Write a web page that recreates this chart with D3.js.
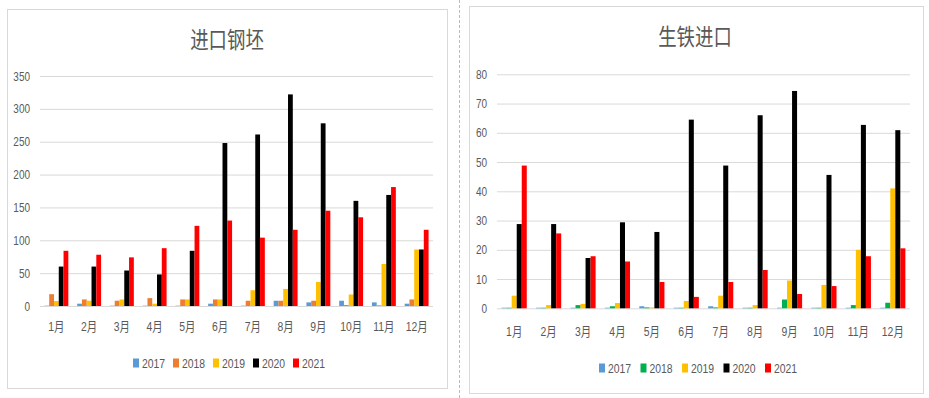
<!DOCTYPE html>
<html lang="zh">
<head>
<meta charset="utf-8" />
<title>进口钢坯 / 生铁进口</title>
<script src="https://d3js.org/d3.v7.min.js"></script>
<style>
  body { margin: 0; background: #fff; }
  text { font-family: "Liberation Sans", "Noto Sans CJK SC", sans-serif; fill: #595959; }
</style>
</head>
<body>
<script>
// data
const months = ["1月","2月","3月","4月","5月","6月","7月","8月","9月","10月","11月","12月"];
const years = ["2017","2018","2019","2020","2021"];

// 进口钢坯
const billet2017 = [0.5, 3.5, 0.5, 0.5, 0.5, 3.5, 0.5, 8, 5.5, 8, 5.5, 3.5];
const billet2018 = [18, 10, 8, 12, 10, 10, 8, 8, 8, 1.5, 1, 10];
const billet2019 = [7.5, 8, 10, 3.5, 10, 10, 24, 26, 36.5, 17.5, 64, 86];
const billet2020 = [60, 60, 54, 48, 84, 248, 261, 322, 278, 160, 169, 86];
const billet2021 = [84, 78, 74, 88, 122, 130, 104, 116, 145, 135, 181, 116];
const billetTicks = [0, 50, 100, 150, 200, 250, 300, 350];

// 生铁进口
const pig2017 = [0.2, 0.2, 0.2, 0.2, 0.7, 0.2, 0.7, 0.2, 0.2, 0.2, 0.2, 0.2];
const pig2018 = [0.2, 0.2, 1.1, 0.7, 0.3, 0.2, 0.3, 0.2, 3, 0.2, 1.1, 1.9];
const pig2019 = [4.3, 1.1, 1.5, 1.8, 0.3, 2.5, 4.3, 1.1, 9.5, 8, 20, 41];
const pig2020 = [28.8, 28.8, 17.2, 29.4, 26.1, 64.5, 48.8, 66, 74.3, 45.6, 62.7, 60.9];
const pig2021 = [48.8, 25.6, 17.8, 16, 9, 3.9, 9, 13.1, 4.9, 7.6, 17.8, 20.5];
const pigTicks = [0, 10, 20, 30, 40, 50, 60, 70, 80];

const svg = d3.select("body").append("svg")
  .attr("width", 929).attr("height", 398);

// dashed separator between the two screenshots
svg.append("line")
  .attr("x1", 459.5).attr("x2", 459.5).attr("y1", 0).attr("y2", 398)
  .attr("stroke", "#bbb").attr("stroke-dasharray", "3,2");

const sx = 0.8; // text in the picture is squeezed sideways

function drawChart(o) {
  const g = svg.append("g");
  g.append("rect")
    .attr("x", o.panel[0] + 0.5).attr("y", o.panel[1] + 0.5)
    .attr("width", o.panel[2]).attr("height", o.panel[3])
    .attr("fill", "#fff").attr("stroke", "#d9d9d9");

  g.append("text")
    .attr("transform", `translate(${o.titleX},${o.titleY}) scale(${sx},1)`)
    .attr("text-anchor", "middle")
    .style("font-family", "'Noto Sans CJK SC', sans-serif")
    .style("font-size", "23px")
    .text(o.title);

  const y = d3.scaleLinear().domain([0, o.max]).range([o.y0, o.yTop]);
  const x = d3.scaleBand().domain(months).range([o.x0, o.x1])
    .paddingInner(o.pad).paddingOuter(o.pad / 2);
  const xs = d3.scaleBand().domain(years).range([0, x.bandwidth()]);

  // grid + y labels
  const yAxis = g.append("g")
    .attr("transform", `translate(${o.x0},0)`)
    .call(d3.axisLeft(y).tickValues(o.ticks).tickSize(-(o.x1 - o.x0)).tickPadding(10));
  yAxis.select(".domain").remove();
  yAxis.selectAll("line").attr("stroke", "#d9d9d9");
  yAxis.selectAll("text")
    .attr("x", null)
    .attr("transform", `translate(-10,0) scale(${sx},1)`)
    .style("font-size", "12.5px").style("fill", "#595959");

  // bars
  o.series.forEach((vals, si) => {
    g.append("g").selectAll("rect")
      .data(vals)
      .join("rect")
      .attr("x", (d, i) => x(months[i]) + xs(years[si]))
      .attr("width", xs.bandwidth())
      .attr("y", d => y(d))
      .attr("height", d => y(0) - y(d))
      .attr("fill", o.colors[si]);
  });

  // month labels
  const xAxis = g.append("g")
    .attr("transform", `translate(0,${o.y0})`)
    .call(d3.axisBottom(x).tickSize(0).tickPadding(o.labelPad));
  xAxis.select(".domain").remove();
  xAxis.selectAll("text")
    .attr("transform", `scale(${sx},1)`)
    .attr("x", function(d) { return 0; })
    .style("font-size", "13px").style("fill", "#595959");
  xAxis.selectAll(".tick text").attr("text-anchor", "middle");

  // legend
  const lg = g.append("g").attr("transform", `translate(${o.legendX},${o.legendY})`);
  const item = lg.selectAll("g").data(years).join("g")
    .attr("transform", (d, i) => `translate(${i * o.legendStep},0)`);
  item.append("rect")
    .attr("x", 0).attr("y", -4.5).attr("width", 6).attr("height", 9)
    .attr("fill", (d, i) => o.colors[i]);
  item.append("text")
    .attr("transform", `translate(9,4.5) scale(${sx},1)`)
    .style("font-size", "13px")
    .text(d => d);
}

drawChart({
  title: "进口钢坯", titleX: 227, titleY: 48,
  panel: [7, 9, 440, 379],
  x0: 40, x1: 433, y0: 306, yTop: 76, max: 350, ticks: billetTicks,
  pad: 0.27, labelPad: 16,
  series: [billet2017, billet2018, billet2019, billet2020, billet2021],
  colors: ["#5B9BD5", "#ED7D31", "#FFC000", "#000000", "#FF0000"],
  legendX: 133, legendY: 363, legendStep: 40
});

drawChart({
  title: "生铁进口", titleX: 695, titleY: 45,
  panel: [469, 6, 454, 387],
  x0: 497, x1: 910, y0: 308.3, yTop: 74.3, max: 80, ticks: pigTicks,
  pad: 0.27, labelPad: 18,
  series: [pig2017, pig2018, pig2019, pig2020, pig2021],
  colors: ["#5B9BD5", "#00B050", "#FFC000", "#000000", "#FF0000"],
  legendX: 599, legendY: 368, legendStep: 41.5
});
</script>
</body>
</html>
